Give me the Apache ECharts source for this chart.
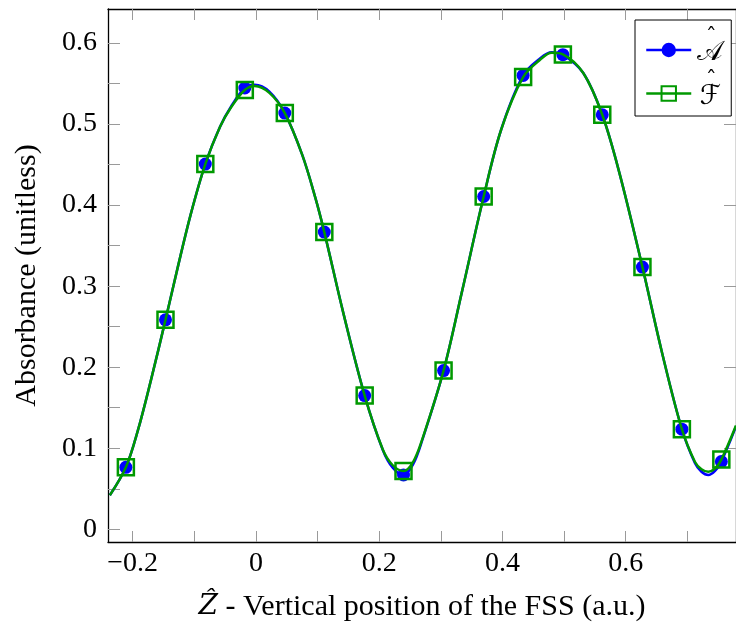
<!DOCTYPE html>
<html><head><meta charset="utf-8">
<script src="https://cdn.jsdelivr.net/npm/echarts@6/dist/echarts.min.js"></script>
<style>html,body{margin:0;padding:0;background:#fff}#c{width:736px;height:632px}</style>
</head><body><div id="c"></div>
<script>
// Marker positions (sampled points shown with symbols)
const markX = [-0.211, -0.1467, -0.0821, -0.018, 0.0469, 0.111, 0.1765, 0.2395, 0.3045, 0.3696, 0.4336, 0.4981, 0.562, 0.6272, 0.6912, 0.7552];
const markA = [0.0765, 0.2584, 0.4506, 0.5445, 0.5136, 0.3667, 0.165, 0.067, 0.1958, 0.4106, 0.560, 0.5856, 0.5115, 0.3235, 0.1235, 0.0835];
const markF = [0.0765, 0.2584, 0.4506, 0.542, 0.5136, 0.3667, 0.165, 0.072, 0.1958, 0.4106, 0.558, 0.586, 0.5115, 0.3235, 0.1235, 0.086];
// Curve points between markers
const curveX = [-0.237, -0.1915, -0.170, -0.1275, -0.106, -0.058, -0.040, -0.002, 0.0219, 0.0752, 0.0965, 0.1419, 0.2059, 0.222, 0.255, 0.2699, 0.334, 0.3979, 0.4619, 0.480, 0.5312, 0.5899, 0.6592, 0.7125, 0.723, 0.734, 0.745, 0.779];
const curveA = [0.042, 0.122, 0.185, 0.321, 0.388, 0.497, 0.522, 0.5485, 0.540, 0.462, 0.409, 0.2667, 0.0979, 0.0760, 0.080, 0.110, 0.292, 0.493, 0.5815, 0.5885, 0.563, 0.4395, 0.2173, 0.0815, 0.071, 0.067, 0.072, 0.127];
const curveF = [0.042, 0.122, 0.185, 0.321, 0.388, 0.497, 0.521, 0.547, 0.5385, 0.462, 0.409, 0.2667, 0.0985, 0.079, 0.083, 0.111, 0.292, 0.493, 0.580, 0.588, 0.563, 0.4395, 0.2173, 0.083, 0.074, 0.071, 0.075, 0.128];
// Ticks
const xTicks = [-0.2, -0.1, 0, 0.1, 0.2, 0.3, 0.4, 0.5, 0.6, 0.7];
const xLabels = [-0.2, 0, 0.2, 0.4, 0.6];
const yTicks = [0, 0.05, 0.1, 0.15, 0.2, 0.25, 0.3, 0.35, 0.4, 0.45, 0.5, 0.55, 0.6];
const yLabels = [0, 0.1, 0.2, 0.3, 0.4, 0.5, 0.6];
const yRightTicks = [0.1, 0.2, 0.3, 0.4, 0.5, 0.6];
const legendBase = ['\uD835\uDC9C', '\u2131'];

const SERIF = "'Liberation Serif', 'DejaVu Serif', serif";
function build(cx, cy, mx, my) {
  const pts = cx.map((x, i) => ({ value: [x, cy[i]], symbol: 'none' }));
  mx.forEach((x, i) => pts.push({ value: [x, my[i]] }));
  pts.sort((a, b) => a.value[0] - b.value[0]);
  return pts;
}
function fmt(v) {
  const s = String(Number(v.toFixed(2)));
  return s.replace('-', '\u2212');
}
const tickStyle = { color: '#9a9a9a', width: 1 };
const lineAx = { show: true, onZero: false, lineStyle: { color: '#000', width: 1.3 } };
const XMIN = -0.24, XMAX = 0.779, YMIN = -0.0157, YMAX = 0.642;
const LFONT = "'DejaVu Serif', 'DejaVu Sans', serif";

const chart = echarts.init(document.getElementById('c'), null, { renderer: 'canvas' });
chart.setOption({
  animation: false,
  backgroundColor: '#fff',
  grid: { left: 108, top: 9, right: -9, bottom: 90, containLabel: false },
  legend: {
    orient: 'vertical', left: 635, top: 20,
    padding: [7, 7, 6, 10],
    itemWidth: 45, itemHeight: 18, itemGap: 4,
    backgroundColor: '#fff', borderColor: '#000', borderWidth: 1,
    lineStyle: { width: 2.5 },
    formatter: function (name) { return '{h|\u02C6}\n{s|' + name + '}'; },
    textStyle: {
      fontFamily: LFONT, fontSize: 27, color: '#000', lineHeight: 24,
      rich: {
        h: { fontFamily: LFONT, fontSize: 22, lineHeight: 6, width: 26, align: 'center', color: '#000', padding: [0, 0, 0, 2] },
        s: { fontFamily: LFONT, fontSize: 27, lineHeight: 24, width: 26, align: 'center', color: '#000' }
      }
    },
    data: legendBase,
    selectedMode: false
  },
  xAxis: [{
    type: 'value', min: XMIN, max: XMAX, position: 'bottom',
    axisLine: lineAx,
    axisTick: { show: true, inside: true, length: 11, lineStyle: tickStyle, customValues: xTicks },
    axisLabel: { customValues: xLabels, formatter: fmt, fontFamily: SERIF, fontSize: 28, color: '#000', margin: 8 },
    splitLine: { show: false },
    name: '{i|\u1E90} - Vertical position of the FSS (a.u.)',
    nameLocation: 'middle', nameGap: 50,
    nameTextStyle: { fontFamily: SERIF, fontSize: 30, color: '#000',
      rich: { i: { fontFamily: "'DejaVu Serif', serif", fontStyle: 'italic', fontSize: 28, color: '#000' } } }
  }, {
    type: 'value', min: XMIN, max: XMAX, position: 'top',
    axisLine: lineAx,
    axisTick: { show: true, inside: true, length: 11, lineStyle: tickStyle, customValues: xTicks },
    axisLabel: { show: false }, splitLine: { show: false }
  }],
  yAxis: [{
    type: 'value', min: YMIN, max: YMAX, position: 'left',
    axisLine: lineAx,
    axisTick: { show: true, inside: true, length: 12, lineStyle: tickStyle, customValues: yTicks },
    axisLabel: { customValues: yLabels, formatter: fmt, fontFamily: SERIF, fontSize: 28, color: '#000', margin: 11 },
    splitLine: { show: false },
    name: 'Absorbance (unitless)', nameLocation: 'middle', nameGap: 66, nameRotate: 90,
    nameTextStyle: { fontFamily: SERIF, fontSize: 30, color: '#000' }
  }, {
    type: 'value', min: YMIN, max: YMAX, position: 'right',
    axisLine: lineAx,
    axisTick: { show: true, inside: true, length: 12, lineStyle: tickStyle, customValues: yRightTicks },
    axisLabel: { show: false }, splitLine: { show: false }
  }],
  series: [{
    name: legendBase[0], type: 'line', xAxisIndex: 0, yAxisIndex: 0,
    data: build(curveX, curveA, markX, markA),
    smooth: 0.35, showAllSymbol: true, symbol: 'circle', symbolSize: 13,
    lineStyle: { color: '#0000ff', width: 2.5 },
    itemStyle: { color: '#0000ff' },
    emphasis: { disabled: true }, silent: true, z: 2
  }, {
    name: legendBase[1], type: 'line', xAxisIndex: 0, yAxisIndex: 0,
    data: build(curveX, curveF, markX, markF),
    smooth: 0.35, showAllSymbol: true, symbol: 'rect', symbolSize: 16,
    lineStyle: { color: '#009900', width: 2.5 },
    itemStyle: { color: 'rgba(255,255,255,0)', borderColor: '#009900', borderWidth: 2.5 },
    emphasis: { disabled: true }, silent: true, z: 3
  }]
});
</script>
</body></html>
